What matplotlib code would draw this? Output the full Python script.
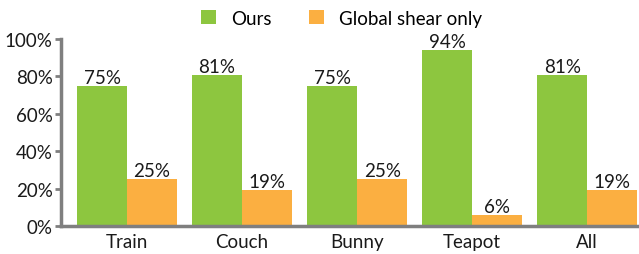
import matplotlib
matplotlib.use("Agg")
import matplotlib.pyplot as plt
import numpy as np

categories = ["Train", "Couch", "Bunny", "Teapot", "All"]
ours = [75, 81, 75, 94, 81]
global_shear = [25, 19, 25, 6, 19]
series_names = ["Ours", "Global shear only"]
yticks = [0, 20, 40, 60, 80, 100]

green = "#8DC63F"
orange = "#FBAF41"
axis_gray = "#7F7F7F"

plt.rcParams['font.family'] = ['Lato', 'DejaVu Sans']
FS = 13.5

fig = plt.figure(figsize=(6.39, 2.55), dpi=100)
ax = fig.add_axes([61/639, 28/255, (639-61)/639, (227-40)/255])

x = np.arange(len(categories))
w = 50/115
b1 = ax.bar(x - w/2, ours, width=w, color=green, label=series_names[0])
b2 = ax.bar(x + w/2, global_shear, width=w, color=orange, label=series_names[1])

for bars, vals in ((b1, ours), (b2, global_shear)):
    for r, v in zip(bars, vals):
        ax.text(r.get_x() + r.get_width()/2, v, f"{v}%", ha="center", va="bottom",
                fontsize=FS, color="#1a1a1a")

ax.set_xlim(-0.574, 4.45)
ax.set_ylim(0, 100)
ax.set_yticks(yticks)
ax.set_yticklabels([f"{t}%" for t in yticks], fontsize=FS, color="#1a1a1a")
ax.set_xticks(x)
ax.set_xticklabels(categories, fontsize=FS, color="#1a1a1a")
ax.tick_params(axis="x", length=0, pad=5)
ax.tick_params(axis="y", length=4, width=2, color=axis_gray, pad=2)
for s in ("top", "right"):
    ax.spines[s].set_visible(False)
for s in ("left", "bottom"):
    ax.spines[s].set_color(axis_gray)
    ax.spines[s].set_linewidth(2.5)

fig.legend(handles=[b1, b2], labels=series_names, loc="upper center",
           bbox_to_anchor=(342/639, 1.025), ncol=2, frameon=False, fontsize=FS,
           handlelength=0.8, handleheight=0.8, columnspacing=2.0, handletextpad=0.8)

fig.savefig("out.png", dpi=100)
